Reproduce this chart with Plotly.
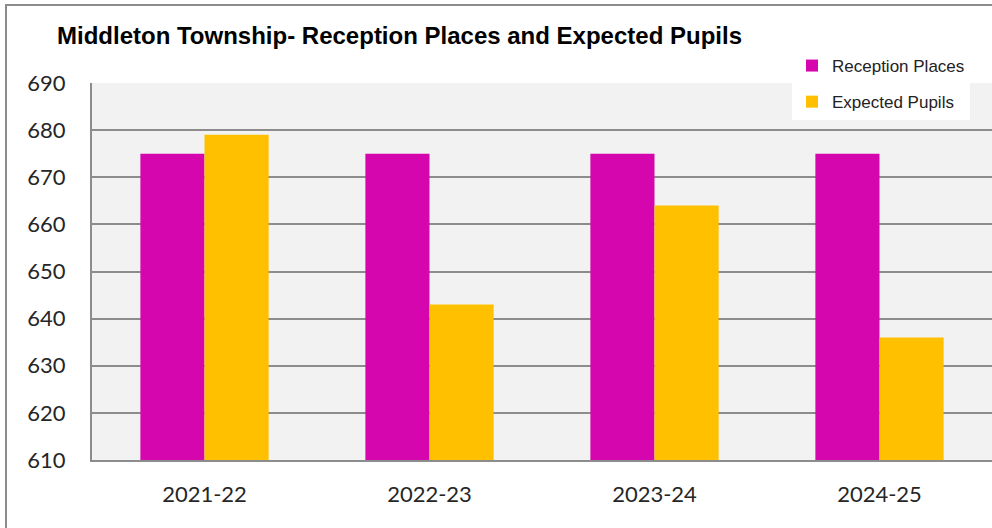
import plotly.graph_objects as go

categories = ["2021-22", "2022-23", "2023-24", "2024-25"]
reception_places = [675, 675, 675, 675]
expected_pupils = [679, 643, 664, 636]
y_ticks = [610, 620, 630, 640, 650, 660, 670, 680, 690]

W, H = 992, 528
ML, MR, MT, MB = 92, 0, 83, 68
PW = W - ML - MR
PH = H - MT - MB

fig = go.Figure()
fig.add_trace(go.Bar(name="Reception Places", x=categories, y=reception_places,
                     legendgroup="a",
                     marker=dict(color="#D506AD", line=dict(width=0))))
fig.add_trace(go.Bar(name="Expected Pupils", x=categories, y=expected_pupils,
                     legendgroup="b",
                     marker=dict(color="#FFC000", line=dict(width=0))))

grid = "#8c8c8c"
fig.update_layout(
    width=W, height=H,
    margin=dict(l=ML, r=MR, t=MT, b=MB),
    paper_bgcolor="white",
    plot_bgcolor="#f2f2f2",
    barmode="group",
    bargap=0.43,
    bargroupgap=0,
    title=dict(text="<b>Middleton Township- Reception Places and Expected Pupils</b>",
               xref="container", yref="container",
               x=57 / W, xanchor="left", y=1 - 36 / H, yanchor="middle",
               font=dict(family="Liberation Sans, Arial", size=24, color="black")),
    legend=dict(x=(792 - ML) / PW, xanchor="left",
                y=(H - MB - 48) / PH, yanchor="top",
                bgcolor="white",
                font=dict(family="Liberation Sans, Arial", size=17, color="#222222"),
                tracegroupgap=11, traceorder="grouped",
                itemwidth=30),
    showlegend=True,
    xaxis=dict(showgrid=False, showline=True, linecolor=grid, linewidth=2,
               tickfont=dict(family="Lato", size=22, color="#262626"),
               ticks="", ticklabelstandoff=14, fixedrange=True),
    yaxis=dict(range=[610, 690], tickvals=y_ticks,
               showgrid=True, gridcolor=grid, gridwidth=2,
               showline=True, linecolor=grid, linewidth=2,
               zeroline=False,
               tickfont=dict(family="Lato", size=22, color="#262626"),
               ticks="", ticklabelstandoff=20, fixedrange=True),
)

# outer chart border (top and left edges visible)
fig.add_shape(type="line", xref="paper", yref="paper",
              x0=(5 - ML) / PW, x1=(W + 10 - ML) / PW,
              y0=(H - MB - 5) / PH, y1=(H - MB - 5) / PH,
              line=dict(color="#8c8c8c", width=2))
fig.add_shape(type="line", xref="paper", yref="paper",
              x0=(6 - ML) / PW, x1=(6 - ML) / PW,
              y0=(H - MB - 5) / PH, y1=(H - MB + 10 - H) / PH - 0.05,
              line=dict(color="#8c8c8c", width=2))

fig.write_html("out.html",
               config={"displayModeBar": False},
               post_script="document.body.style.margin='0';document.body.style.overflow='hidden';")
